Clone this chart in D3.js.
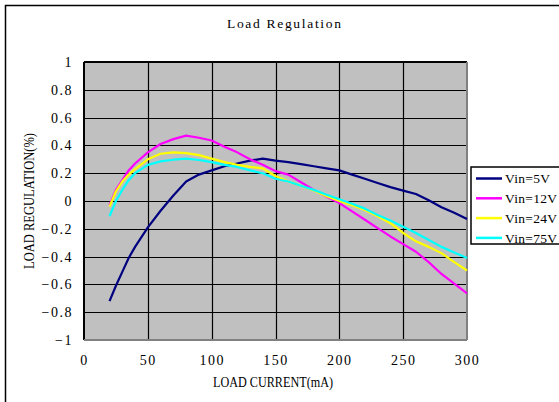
<!DOCTYPE html>
<html lang="en">
<head>
    <meta charset="UTF-8">
    <title>Load Regulation</title>
    <script src="https://d3js.org/d3.v7.min.js"></script>
    <style>
        body { margin: 0; background: #fff; }
        svg text {
            font-family: "Liberation Serif", "DejaVu Serif", serif;
            fill: #000;
        }
        .axis path, .axis line { display: none; }
        .axis text { font-size: 14px; letter-spacing: 1.5px; }
    </style>
</head>
<body>
    <div id="chart"><svg></svg></div>

    <script>
        // load current (mA), one point every 10 mA plus a few in the knee
        var current = [20, 25, 30, 35, 40, 50, 60, 70, 80, 90, 100, 110, 120, 130, 140, 150,
                       160, 170, 180, 190, 200, 210, 220, 230, 240, 250, 260, 270, 280, 290, 300];

        var vin5 = [-0.72, -0.61, -0.51, -0.41, -0.33, -0.19, -0.07, 0.04, 0.14, 0.19, 0.22, 0.25,
                    0.27, 0.29, 0.305, 0.29, 0.28, 0.265, 0.25, 0.235, 0.22, 0.19, 0.16, 0.13,
                    0.1, 0.075, 0.05, 0.005, -0.045, -0.085, -0.13];
        var vin12 = [-0.03, 0.08, 0.15, 0.22, 0.27, 0.35, 0.41, 0.445, 0.47, 0.455, 0.435, 0.39,
                     0.35, 0.3, 0.26, 0.215, 0.19, 0.135, 0.08, 0.03, -0.015, -0.075, -0.135, -0.195,
                     -0.255, -0.31, -0.365, -0.44, -0.525, -0.595, -0.665];
        var vin24 = [-0.04, 0.07, 0.14, 0.19, 0.23, 0.3, 0.34, 0.35, 0.345, 0.33, 0.305, 0.28,
                     0.26, 0.245, 0.235, 0.18, 0.14, 0.11, 0.075, 0.035, 0.0, -0.03, -0.065, -0.11,
                     -0.16, -0.23, -0.29, -0.33, -0.375, -0.44, -0.5];
        var vin75 = [-0.11, 0.0, 0.08, 0.15, 0.2, 0.26, 0.285, 0.297, 0.305, 0.295, 0.28, 0.26,
                     0.245, 0.22, 0.2, 0.16, 0.14, 0.11, 0.08, 0.045, 0.012, -0.02, -0.055, -0.1,
                     -0.14, -0.185, -0.23, -0.28, -0.33, -0.37, -0.41];

        var seriesNames = ["Vin=5V", "Vin=12V", "Vin=24V", "Vin=75V"];
        var seriesValues = [vin5, vin12, vin24, vin75];
        var seriesColors = ["#000080", "#ff00ff", "#ffff00", "#00ffff"];

        var xTicks = [0, 50, 100, 150, 200, 250, 300];
        var yTicks = [1, 0.8, 0.6, 0.4, 0.2, 0, -0.2, -0.4, -0.6, -0.8, -1];

        var width = 559, height = 402;
        var plot = { left: 84, top: 62, right: 467, bottom: 340 };

        var svg = d3.select("#chart svg")
                    .attr("width", width)
                    .attr("height", height);

        // outer frame (only top and left edges fall inside the picture)
        svg.append("rect")
           .attr("x", 5.5).attr("y", 5.5)
           .attr("width", 700).attr("height", 500)
           .attr("fill", "#fff")
           .attr("stroke", "#000")
           .attr("stroke-width", 1.5);

        var xScale = d3.scaleLinear().domain([0, 300]).range([plot.left, plot.right]);
        var yScale = d3.scaleLinear().domain([-1, 1]).range([plot.bottom, plot.top]);

        // plot background
        svg.append("rect")
           .attr("x", plot.left).attr("y", plot.top)
           .attr("width", plot.right - plot.left)
           .attr("height", plot.bottom - plot.top)
           .attr("fill", "#c0c0c0");

        // grid
        svg.append("g").selectAll("line")
           .data(yTicks)
           .enter().append("line")
           .attr("x1", plot.left).attr("x2", plot.right)
           .attr("y1", function(d) { return Math.round(yScale(d)) + 0.5; })
           .attr("y2", function(d) { return Math.round(yScale(d)) + 0.5; })
           .attr("stroke", "#000").attr("stroke-width", 1.2);

        svg.append("g").selectAll("line")
           .data(xTicks.slice(1, -1))
           .enter().append("line")
           .attr("y1", plot.top).attr("y2", plot.bottom)
           .attr("x1", function(d) { return Math.round(xScale(d)) + 0.5; })
           .attr("x2", function(d) { return Math.round(xScale(d)) + 0.5; })
           .attr("stroke", "#000").attr("stroke-width", 1.2);

        // plot border: dark on top/left, grey on right/bottom
        svg.append("line")
           .attr("x1", plot.left).attr("x2", plot.right)
           .attr("y1", plot.top).attr("y2", plot.top)
           .attr("stroke", "#000").attr("stroke-width", 2);
        svg.append("line")
           .attr("x1", plot.left).attr("x2", plot.left)
           .attr("y1", plot.top).attr("y2", plot.bottom)
           .attr("stroke", "#000").attr("stroke-width", 2);
        svg.append("line")
           .attr("x1", plot.right).attr("x2", plot.right)
           .attr("y1", plot.top).attr("y2", plot.bottom)
           .attr("stroke", "#808080").attr("stroke-width", 2);
        svg.append("line")
           .attr("x1", plot.left).attr("x2", plot.right)
           .attr("y1", plot.bottom).attr("y2", plot.bottom)
           .attr("stroke", "#808080").attr("stroke-width", 2);

        // series
        var line = d3.line()
                     .x(function(d, i) { return xScale(current[i]); })
                     .y(function(d) { return yScale(d); });

        svg.append("g").selectAll("path")
           .data(seriesValues)
           .enter().append("path")
           .attr("d", line)
           .attr("fill", "none")
           .attr("stroke", function(d, i) { return seriesColors[i]; })
           .attr("stroke-width", 2.2)
           .attr("stroke-linejoin", "round");

        // axes
        svg.append("g")
           .attr("class", "axis")
           .attr("transform", "translate(0," + plot.bottom + ")")
           .call(d3.axisBottom(xScale).tickValues(xTicks).tickSize(0).tickPadding(15));

        svg.append("g")
           .attr("class", "axis")
           .attr("transform", "translate(" + plot.left + ",0)")
           .call(d3.axisLeft(yScale).tickValues(yTicks).tickSize(0).tickPadding(11)
                   .tickFormat(d3.format("")));

        // titles
        svg.append("text")
           .attr("x", 284).attr("y", 28)
           .attr("text-anchor", "middle")
           .attr("font-size", "13.5px")
           .attr("textLength", 114)
           .attr("lengthAdjust", "spacing")
           .text("Load Regulation");

        svg.append("text")
           .attr("x", 273).attr("y", 387)
           .attr("text-anchor", "middle")
           .attr("font-size", "14px")
           .attr("textLength", 120)
           .attr("lengthAdjust", "spacingAndGlyphs")
           .text("LOAD CURRENT(mA)");

        svg.append("text")
           .attr("transform", "translate(34," + yScale(0) + ") rotate(-90)")
           .attr("text-anchor", "middle")
           .attr("font-size", "14px")
           .attr("textLength", 136)
           .attr("lengthAdjust", "spacingAndGlyphs")
           .text("LOAD REGULATION(%)");

        // legend
        var legend = svg.append("g");
        legend.append("rect")
              .attr("x", 471).attr("y", 167)
              .attr("width", 110).attr("height", 77)
              .attr("fill", "#fff")
              .attr("stroke", "#000")
              .attr("stroke-width", 1.5);

        var items = legend.selectAll(".item")
                          .data(seriesNames)
                          .enter().append("g")
                          .attr("class", "item")
                          .attr("transform", function(d, i) { return "translate(0," + (178.5 + i * 19.8) + ")"; });

        items.append("line")
             .attr("x1", 476).attr("x2", 502)
             .attr("stroke", function(d, i) { return seriesColors[i]; })
             .attr("stroke-width", 2.5);

        items.append("text")
             .attr("x", 505).attr("dy", "0.35em")
             .attr("font-size", "13.5px")
             .attr("letter-spacing", "0.3px")
             .text(function(d) { return d; });
    </script>
</body>
</html>
